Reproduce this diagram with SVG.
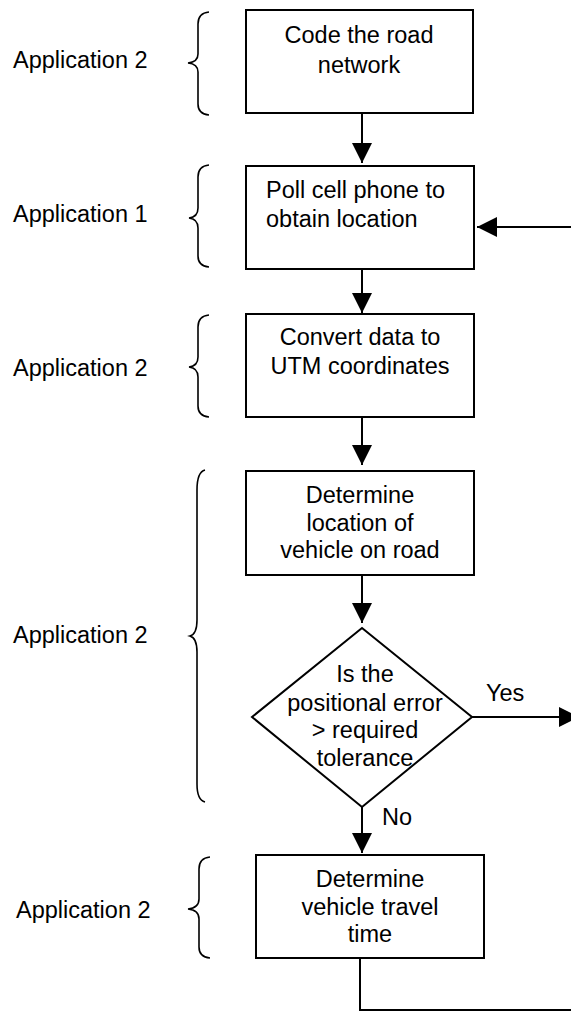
<svg xmlns="http://www.w3.org/2000/svg" width="571" height="1012" viewBox="0 0 571 1012">
<style>
text{font-family:"Liberation Sans",Arial,sans-serif;font-size:23.5px;fill:#000}
.c{text-anchor:middle}
.box{fill:#fff;stroke:#000;stroke-width:2}
.br{fill:none;stroke:#000;stroke-width:1.6}
.ln{fill:none;stroke:#000;stroke-width:2}
</style>
<defs>
<marker id="ah" markerUnits="userSpaceOnUse" markerWidth="20" markerHeight="20" refX="20" refY="10" orient="auto" viewBox="0 0 20 20">
<path d="M0,0 L20,10 L0,20 Z" fill="#000"/>
</marker>
</defs>
<rect width="571" height="1012" fill="#fff"/>
<g id="labels">
<text x="13" y="68">Application 2</text>
<text x="13" y="222">Application 1</text>
<text x="13" y="376">Application 2</text>
<text x="13" y="643">Application 2</text>
<text x="16" y="918">Application 2</text>
</g>
<g id="braces">
<path class="br" d="M209,12 Q198,13 198,24 L198,54 Q198,62 188,63 Q198,64 198,72 L198,104 Q198,114 209,115"/>
<path class="br" d="M209,165 Q198,166 198,177 L198,208 Q198,217 189,218 Q198,219 198,228 L198,256 Q198,266 209,267"/>
<path class="br" d="M209,315 Q198,316 198,327 L198,357 Q198,366 189,367 Q198,368 198,377 L198,406 Q198,416 209,417"/>
<path class="br" d="M205,470 Q197,472 197,490 L197,620 Q197,634 190,636 Q197,638 197,652 L197,784 Q197,800 205,802"/>
<path class="br" d="M210,857 Q199,858 199,869 L199,899 Q199,908 188,909 Q199,910 199,919 L199,947 Q199,957 210,958"/>
</g>
<g id="connectors">
<line class="ln" x1="362" y1="113" x2="362" y2="163" marker-end="url(#ah)"/>
<line class="ln" x1="362" y1="269" x2="362" y2="313" marker-end="url(#ah)"/>
<line class="ln" x1="362" y1="417" x2="362" y2="465" marker-end="url(#ah)"/>
<line class="ln" x1="362" y1="575" x2="362" y2="623" marker-end="url(#ah)"/>
<line class="ln" x1="362" y1="807" x2="362" y2="853" marker-end="url(#ah)"/>
<line class="ln" x1="472" y1="717" x2="579" y2="717" marker-end="url(#ah)"/>
<line class="ln" x1="580" y1="227" x2="477" y2="227" marker-end="url(#ah)"/>
<polyline class="ln" points="360,958 360,1010 580,1010"/>
<text x="486" y="701">Yes</text>
<text x="382" y="825">No</text>
</g>
<g id="n1">
<rect class="box" x="246" y="10" width="227" height="103"/>
<text class="c" x="359" y="43">Code the road</text>
<text class="c" x="359" y="73">network</text>
</g>
<g id="n2">
<rect class="box" x="246" y="166" width="228" height="103"/>
<text x="266" y="198">Poll cell phone to</text>
<text x="266" y="227">obtain location</text>
</g>
<g id="n3">
<rect class="box" x="246" y="314" width="228" height="103"/>
<text class="c" x="360" y="345">Convert data to</text>
<text class="c" x="360" y="374">UTM coordinates</text>
</g>
<g id="n4">
<rect class="box" x="246" y="471" width="228" height="104"/>
<text class="c" x="360" y="503">Determine</text>
<text class="c" x="360" y="531">location of</text>
<text class="c" x="360" y="558">vehicle on road</text>
</g>
<g id="n5">
<polygon class="box" fill="none" style="fill:none" points="362,628 472,717 362,807 252,717"/>
<text class="c" x="365" y="682">Is the</text>
<text class="c" x="365" y="711">positional error</text>
<text class="c" x="365" y="738">&gt; required</text>
<text class="c" x="365" y="766">tolerance</text>
</g>
<g id="n6">
<rect class="box" x="256" y="855" width="228" height="103"/>
<text class="c" x="370" y="887">Determine</text>
<text class="c" x="370" y="915">vehicle travel</text>
<text class="c" x="370" y="942">time</text>
</g>
</svg>
